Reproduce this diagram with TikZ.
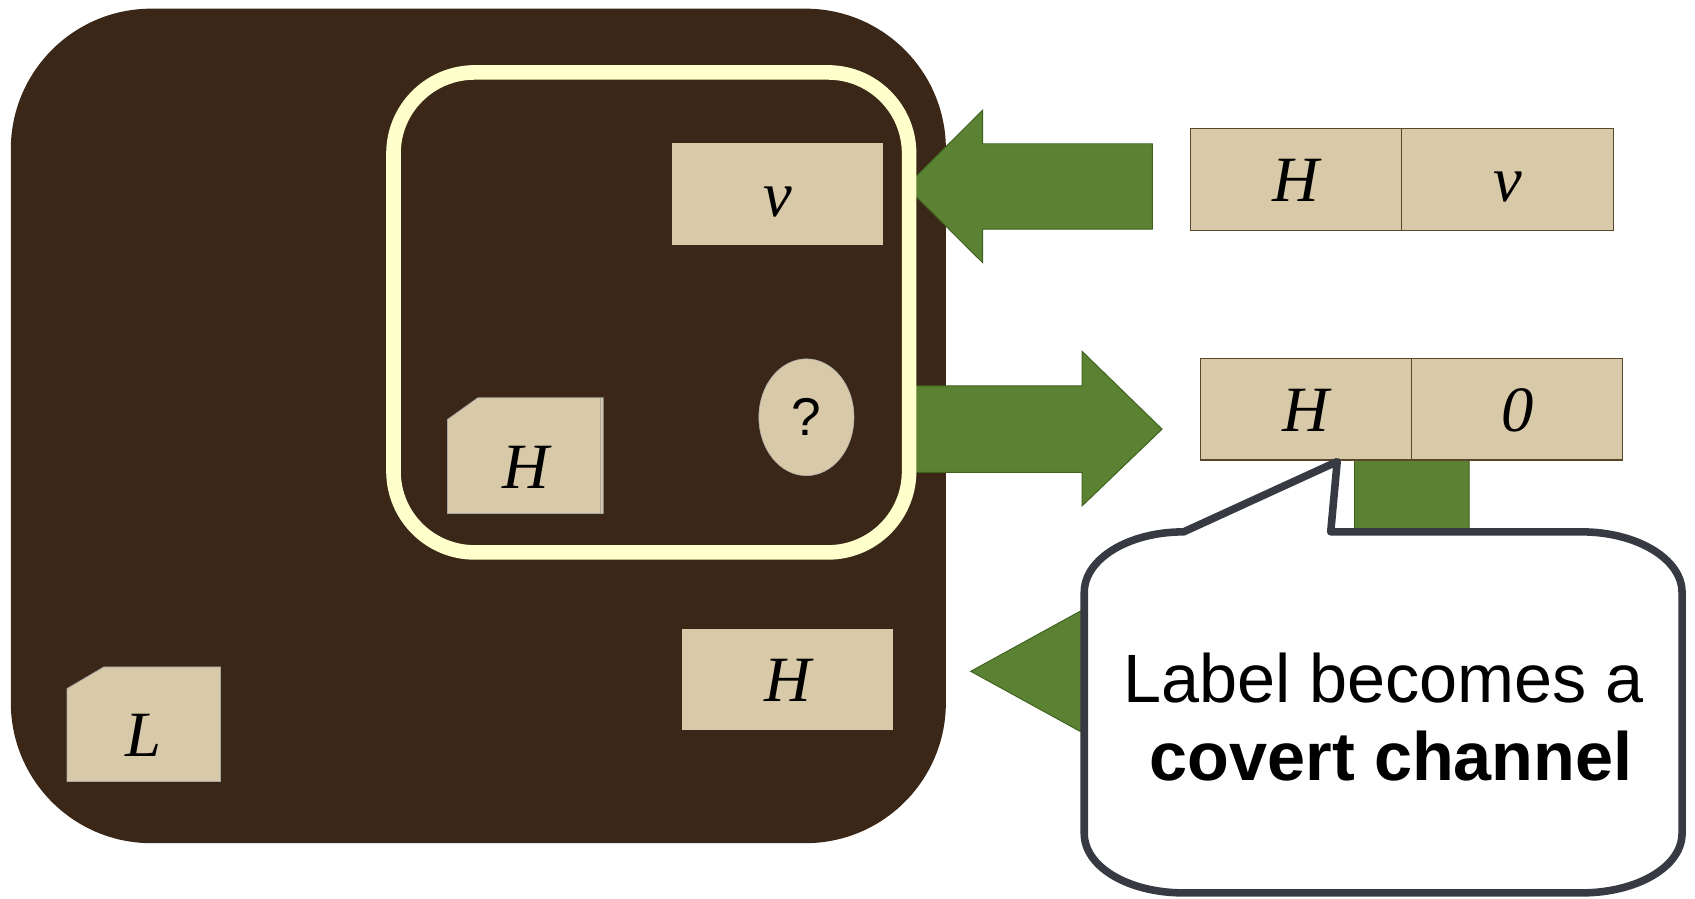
\documentclass[tikz,border=0pt]{standalone}
\usepackage{fontspec}
\setmainfont{Liberation Serif}
\setsansfont{Liberation Sans}
\usepackage{xcolor}
\usetikzlibrary{shapes.geometric,positioning}

\definecolor{boxbrown}{RGB}{58,39,23}
\definecolor{labeltan}{RGB}{216,201,168}
\definecolor{frameyellow}{RGB}{255,255,204}
\definecolor{flowgreen}{RGB}{91,130,50}
\definecolor{flowedge}{RGB}{62,98,30}
\definecolor{bubbleedge}{RGB}{55,58,66}
\definecolor{celledge}{RGB}{90,72,45}

\tikzset{
  var/.style={font=\fontsize{34}{40}\selectfont\itshape, text height=10.9mm, text depth=2.7mm, inner sep=0pt, outer sep=0pt},
  cell/.style={var, fill=labeltan, minimum width=39.1mm, minimum height=18.8mm},
  flow/.style={fill=flowgreen, draw=flowedge, line width=0.5pt},
  bubbletext/.style={font=\sffamily\fontsize{36}{41}\selectfont, inner sep=0pt},
}

\begin{document}
\begin{tikzpicture}[x=0.2mm,y=-0.2mm]
  \useasboundingbox (0,0) rectangle (1568,831);
  % ---- outer box ----
  \fill[boxbrown, rounded corners=26mm] (10,8) rectangle (875,780);
  % ---- green flows ----
  \filldraw[flow] (838,172.5) -- (909,102) -- (909,133) -- (1066,133) -- (1066,212)
    -- (909,212) -- (909,243) -- cycle;
  \filldraw[flow] (845,357) -- (1001,357) -- (1001,325) -- (1075,397) -- (1001,468)
    -- (1001,437) -- (845,437) -- cycle;
  \filldraw[flow] (1253,426) -- (1359,426) -- (1359,661) -- (1040,661) -- (1040,699)
    -- (898,621) -- (1040,543) -- (1040,581) -- (1253,581) -- cycle;
  % ---- inner frame ----
  \draw[frameyellow, line width=2.7mm, rounded corners=15mm] (364,67) rectangle (841,511);
  % ---- labelled values ----
  \node[cell] (inv) at (719.5,179.5) {v};
  \node[cell] (lowh) at (728.5,628.5) {H};
  \filldraw[fill=labeltan, draw=gray!70, line width=0.4pt]
    (414,388) -- (442,368) -- (558,368) -- (558,475) -- (414,475) -- cycle;
  \draw[gray!70, line width=0.4pt] (555,368) -- (555,475);
  \node[var] (hfold) at (486,431.5) {H};
  \filldraw[fill=labeltan, draw=gray!70, line width=0.4pt]
    (62,637) -- (96,617) -- (204,617) -- (204,723) -- (62,723) -- cycle;
  \node[var] (lfold) at (133,679.5) {L};
  \node[ellipse, fill=labeltan, draw=gray!60, line width=0.3pt, inner sep=0pt,
    minimum width=17.6mm, minimum height=21.6mm,
    font=\sffamily\fontsize{28}{32}\selectfont, text height=8.9mm, text depth=2.1mm] (qm) at (746,386) {?};
  % ---- outside cells ----
  \node[cell, draw=celledge, line width=0.6pt] (hv1) at (1199,166) {H};
  \node[cell, draw=celledge, line width=0.6pt, right=0pt of hv1] (hv2) {v};
  \node[cell, draw=celledge, line width=0.6pt] (h01) at (1208,378.5) {H};
  \node[cell, draw=celledge, line width=0.6pt, right=0pt of h01] (h02) {0};
  % ---- callout ----
  \filldraw[fill=white, draw=bubbleedge, line width=1.4mm, line join=round]
    (1095,492) -- (1237,427) -- (1231,492) -- (1463,492)
    .. controls (1514,492) and (1556,517) .. (1556,548) -- (1556,771)
    .. controls (1556,802) and (1514,826) .. (1463,826) -- (1095,826)
    .. controls (1044,826) and (1003,802) .. (1003,771) -- (1003,548)
    .. controls (1003,517) and (1044,492) .. (1095,492) -- cycle;
  \node[bubbletext, anchor=base] (lbl1) at (1280,650) {Label becomes a};
  \node[bubbletext, anchor=base] (lbl2) at (1287,722) {\bfseries covert channel};
\end{tikzpicture}
\end{document}
